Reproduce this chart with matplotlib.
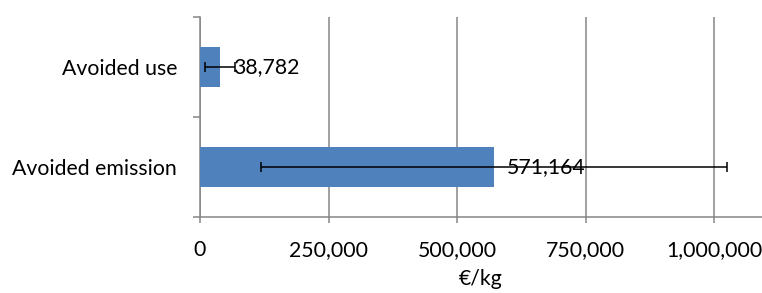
import matplotlib
matplotlib.use("Agg")
import matplotlib.pyplot as plt
from matplotlib.ticker import FuncFormatter, FixedLocator

categories = ["Avoided emission", "Avoided use"]
values = [571164, 38782]
errors = [452650, 28480]
xticks = [0, 250000, 500000, 750000, 1000000]
xlabel = "€/kg"

FONT = "Lato"
FS = 15.3
plt.rcParams['font.family'] = [FONT, 'DejaVu Sans']

fig = plt.figure(figsize=(7.62, 2.93), dpi=100)
ax = fig.add_axes([200/762, 1-217/293, 1-200/762, 200/293])

pos = list(range(len(categories)))
ax.barh(pos, values, height=0.4, color="#4F81BD", zorder=3,
        xerr=errors, error_kw=dict(ecolor="black", elinewidth=1.1, capsize=3.6, capthick=1.1, zorder=4))
for p, v in zip(pos, values):
    ax.text(v + 26000, p, f"{v:,}", va="center", ha="left", fontsize=FS, color="black", zorder=5)

ax.set_xlim(0, 1092500)
ax.set_ylim(-0.5, len(categories) - 0.5)
ax.set_xticks(xticks)
ax.xaxis.set_major_formatter(FuncFormatter(lambda x, _: f"{int(x):,}"))
ax.set_yticks(pos)
ax.set_yticklabels(categories)
ax.yaxis.set_minor_locator(FixedLocator([-0.5, 0.5, 1.5]))
ax.tick_params(axis="y", which="major", length=0, pad=16.5, labelsize=FS)
ax.tick_params(axis="y", which="minor", length=5, width=1.1, color="#868686")
ax.tick_params(axis="x", which="major", length=4.3, width=1.1, color="#868686", labelsize=FS, pad=12)
ax.grid(axis="x", color="#868686", linewidth=1.1, zorder=0)
ax.set_axisbelow(True)
for s in ["top", "right"]:
    ax.spines[s].set_visible(False)
for s in ["left", "bottom"]:
    ax.spines[s].set_color("#868686")
    ax.spines[s].set_linewidth(1.1)
ax.set_xlabel(xlabel, fontsize=FS, labelpad=7)

fig.savefig("out.png", dpi=100)
